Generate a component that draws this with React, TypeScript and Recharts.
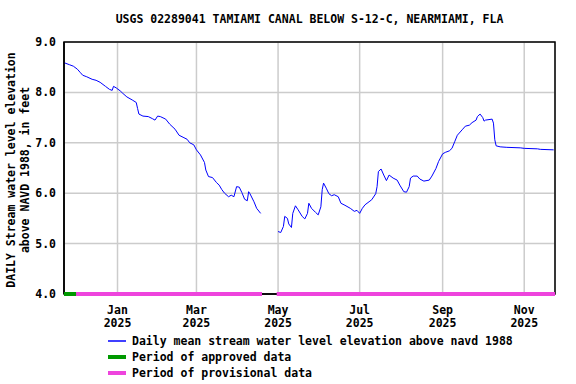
import { CartesianGrid, ComposedChart, Line, ReferenceArea, XAxis, YAxis } from "recharts";

const levelDates = [
  "2024-11-22", "2024-11-26", "2024-11-29", "2024-12-02", "2024-12-04", "2024-12-06", "2024-12-09",
  "2024-12-13", "2024-12-16", "2024-12-19", "2024-12-23", "2024-12-26", "2024-12-28", "2024-12-29",
  "2024-12-31", "2025-01-03", "2025-01-05", "2025-01-08", "2025-01-12", "2025-01-15", "2025-01-16",
  "2025-01-17", "2025-01-20", "2025-01-24", "2025-01-27", "2025-01-29", "2025-01-31", "2025-02-02",
  "2025-02-06", "2025-02-09", "2025-02-13", "2025-02-16", "2025-02-19", "2025-02-22", "2025-02-24",
  "2025-02-27", "2025-03-01", "2025-03-04", "2025-03-07", "2025-03-08", "2025-03-10", "2025-03-13",
  "2025-03-16", "2025-03-18", "2025-03-20", "2025-03-22", "2025-03-25", "2025-03-27", "2025-03-29",
  "2025-03-31", "2025-04-02", "2025-04-04", "2025-04-06", "2025-04-08", "2025-04-09", "2025-04-10",
  "2025-04-13", "2025-04-15", "2025-04-18", "2025-04-25", "2025-05-01", "2025-05-03", "2025-05-05",
  "2025-05-06", "2025-05-08", "2025-05-09", "2025-05-11", "2025-05-12", "2025-05-14", "2025-05-16",
  "2025-05-19", "2025-05-21", "2025-05-23", "2025-05-24", "2025-05-26", "2025-05-29", "2025-05-31",
  "2025-06-02", "2025-06-03", "2025-06-04", "2025-06-06", "2025-06-08", "2025-06-10", "2025-06-12",
  "2025-06-15", "2025-06-17", "2025-06-20", "2025-06-24", "2025-06-27", "2025-06-29", "2025-07-01",
  "2025-07-03", "2025-07-05", "2025-07-08", "2025-07-10", "2025-07-13", "2025-07-14", "2025-07-15",
  "2025-07-17", "2025-07-19", "2025-07-21", "2025-07-23", "2025-07-26", "2025-07-29", "2025-07-31",
  "2025-08-03", "2025-08-05", "2025-08-07", "2025-08-08", "2025-08-10", "2025-08-13", "2025-08-15",
  "2025-08-18", "2025-08-22", "2025-08-24", "2025-08-27", "2025-08-29", "2025-09-01", "2025-09-03",
  "2025-09-06", "2025-09-08", "2025-09-10", "2025-09-12", "2025-09-16", "2025-09-18", "2025-09-21",
  "2025-09-23", "2025-09-26", "2025-09-27", "2025-09-29", "2025-10-01", "2025-10-02", "2025-10-03",
  "2025-10-08", "2025-10-09", "2025-10-10", "2025-10-11", "2025-10-14", "2025-10-19", "2025-10-29",
  "2025-11-01", "2025-11-11", "2025-11-13", "2025-11-23"
];

// feet above NAVD 1988; null = no data (mid-April gap)
const levelValues = [
  8.59, 8.55, 8.52, 8.46, 8.40, 8.34, 8.31,
  8.26, 8.24, 8.20, 8.12, 8.06, 8.04, 8.12,
  8.09, 8.03, 7.98, 7.91, 7.85, 7.80, 7.68,
  7.57, 7.53, 7.52, 7.48, 7.45, 7.53, 7.52,
  7.47, 7.37, 7.27, 7.15, 7.11, 7.07, 7.00,
  6.96, 6.86, 6.76, 6.61, 6.46, 6.33, 6.31,
  6.21, 6.16, 6.07, 6.00, 5.93, 5.96, 5.93,
  6.13, 6.12, 6.01, 5.88, 5.85, 6.03, 5.99,
  5.83, 5.70, 5.60, null, 5.24, 5.22, 5.34,
  5.54, 5.50, 5.39, 5.32, 5.60, 5.75, 5.67,
  5.54, 5.49, 5.60, 5.80, 5.70, 5.62, 5.57,
  5.73, 6.07, 6.20, 6.10, 5.99, 5.95, 5.97,
  5.93, 5.80, 5.76, 5.70, 5.64, 5.66, 5.60,
  5.70, 5.77, 5.83, 5.87, 5.99, 6.13, 6.43,
  6.48, 6.36, 6.25, 6.36, 6.30, 6.26, 6.16,
  6.03, 6.02, 6.13, 6.30, 6.34, 6.34, 6.28,
  6.24, 6.26, 6.34, 6.49, 6.63, 6.78, 6.81,
  6.84, 6.89, 7.02, 7.15, 7.27, 7.33, 7.35,
  7.40, 7.45, 7.52, 7.57, 7.50, 7.43, 7.45,
  7.47, 7.39, 7.06, 6.94, 6.92, 6.91, 6.90,
  6.89, 6.88, 6.87, 6.86
];

const approvedPeriod = ["2024-11-22", "2024-12-01"];
const provisionalPeriods = [
  ["2024-12-01", "2025-04-19"],
  ["2025-04-30", "2025-11-24"]
];

const xStart = "2024-11-22";
const xEnd = "2025-11-24";
const tickDates = ["2025-01-01", "2025-03-01", "2025-05-01", "2025-07-01", "2025-09-01", "2025-11-01"];
const tickMonths = ["Jan", "Mar", "May", "Jul", "Sep", "Nov"];
const tickYears = ["2025", "2025", "2025", "2025", "2025", "2025"];
const yTicks = [4, 5, 6, 7, 8, 9];

const ORIGIN = Date.UTC(2025, 0, 1);
const toDay = (s: string) => Math.round((Date.parse(s) - ORIGIN) / 86400000);

const levelData = levelDates.map((d, i) => ({ day: toDay(d), level: levelValues[i] }));
const approvedData = approvedPeriod.map((d) => ({ day: toDay(d), v: yTicks[0] }));
const provisionalData: { day: number; v: number | null }[] = [];
provisionalPeriods.forEach((p, i) => {
  if (i > 0) provisionalData.push({ day: toDay(p[0]) - 1, v: null });
  p.forEach((d) => provisionalData.push({ day: toDay(d), v: yTicks[0] }));
});

const xTicks = tickDates.map(toDay);
const FONT = "'DejaVu Sans Mono', monospace";

function MonthTick(props: any) {
  const { x, y, payload } = props;
  const i = xTicks.indexOf(payload.value);
  return (
    <g fontFamily={FONT} fontWeight="bold" fontSize={11.5} fill="#000">
      <text x={x} y={y + 20} textAnchor="middle">{tickMonths[i]}</text>
      <text x={x} y={y + 33} textAnchor="middle">{tickYears[i]}</text>
    </g>
  );
}

const legendItems = [
  { label: "Daily mean stream water level elevation above navd 1988", color: "#0000ff", width: 1.5 },
  { label: "Period of approved data", color: "#009900", width: 4 },
  { label: "Period of provisional data", color: "#ee44dd", width: 4 }
];

export default function App() {
  return (
    <div style={{ position: "absolute", left: 0, top: 0, width: 576, height: 384, background: "#fff", fontFamily: FONT, fontWeight: "bold", fontSize: 11.5 }}>
      <div style={{ position: "absolute", left: 64, width: 491, top: 12, lineHeight: "14px", textAlign: "center" }}>
        USGS 02289041 TAMIAMI CANAL BELOW S-12-C, NEARMIAMI, FLA
      </div>
      <ComposedChart
        width={576}
        height={384}
        margin={{ top: 42, right: 21, bottom: 50, left: 4 }}
      >
        <CartesianGrid stroke="#cccccc" strokeWidth={1.5} />
        <XAxis
          dataKey="day"
          type="number"
          domain={[toDay(xStart), toDay(xEnd)]}
          ticks={xTicks}
          allowDuplicatedCategory={false}
          height={40}
          tickLine={false}
          tickSize={0}
          tickMargin={0}
          axisLine={{ stroke: "#000", strokeWidth: 1.5 }}
          tick={<MonthTick />}
        />
        <YAxis
          type="number"
          domain={[4, 9]}
          ticks={yTicks}
          width={60}
          tickLine={false}
          tickSize={0}
          tickMargin={8}
          axisLine={{ stroke: "#000", strokeWidth: 1.5 }}
          tickFormatter={(v: number) => v.toFixed(1)}
          tick={{ fill: "#000", fontFamily: FONT, fontWeight: "bold", fontSize: 11.5 }}
          label={{
            content: () => (
              <g fontFamily={FONT} fontWeight="bold" fontSize={11.5} fill="#000">
                <text transform="translate(15,170) rotate(-90)" textAnchor="middle">DAILY Stream water level elevation</text>
                <text transform="translate(29,170) rotate(-90)" textAnchor="middle">above NAVD 1988, in feet</text>
              </g>
            )
          }}
        />
        <ReferenceArea
          x1={toDay(xStart)}
          x2={toDay(xEnd)}
          y1={4}
          y2={9}
          fill="none"
          stroke="#000"
          strokeWidth={1.5}
        />
        <Line
          data={levelData}
          dataKey="level"
          stroke="#0000ff"
          strokeWidth={1}
          dot={false}
          connectNulls={false}
          isAnimationActive={false}
        />
        <Line
          data={provisionalData}
          dataKey="v"
          stroke="#ee44dd"
          strokeWidth={4}
          dot={false}
          connectNulls={false}
          isAnimationActive={false}
          zIndex={900}
        />
        <Line
          data={approvedData}
          dataKey="v"
          stroke="#009900"
          strokeWidth={4}
          dot={false}
          isAnimationActive={false}
          zIndex={900}
        />
      </ComposedChart>
      <div style={{ position: "absolute", left: 108, top: 333 }}>
        {legendItems.map((it) => (
          <div key={it.label} style={{ display: "flex", alignItems: "center", height: 16, whiteSpace: "nowrap" }}>
            <svg width={18} height={16} style={{ marginRight: 6 }}>
              <line x1={0} x2={18} y1={8} y2={8} stroke={it.color} strokeWidth={it.width} />
            </svg>
            <span>{it.label}</span>
          </div>
        ))}
      </div>
    </div>
  );
}
